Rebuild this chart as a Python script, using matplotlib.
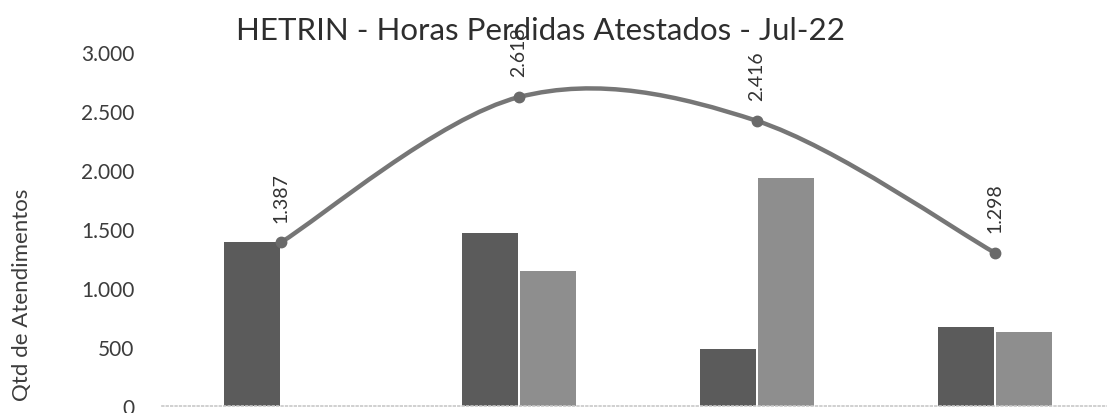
import matplotlib
matplotlib.use("Agg")
import matplotlib.pyplot as plt
from matplotlib.path import Path
from matplotlib.patches import PathPatch
from matplotlib.ticker import FuncFormatter
import numpy as np

# Dados
grupos = ["G1", "G2", "G3", "G4"]
barras_escuras = [1387, 1470, 480, 670]
barras_claras = [0, 1148, 1936, 628]
total_horas = [1387, 2618, 2416, 1298]
rotulos_total = ["1.387", "2.618", "2.416", "1.298"]

plt.rcParams["font.family"] = ["Lato", "DejaVu Sans"]

fig = plt.figure(figsize=(11.07, 4.14), dpi=100)
W, H = 1107, 414
# eixo: x de 162 a 1114 px, y de 53 (3000) a 407 (0)
ax = fig.add_axes([162 / W, (H - 407) / H, 952 / W, (407 - 53) / H])

x = np.arange(len(grupos))
larg = 0.235
ax.bar(x - larg / 2 - 0.006, barras_escuras, width=larg, color="#5b5b5b", zorder=2)
ax.bar(x + larg / 2 + 0.006, barras_claras, width=larg, color="#8e8e8e", zorder=2)

# linha suavizada (Bezier tipo Catmull-Rom, como no Excel)
pts = np.column_stack([x, total_horas]).astype(float)
verts = [pts[0]]
codes = [Path.MOVETO]
n = len(pts)
for i in range(n - 1):
    p0 = pts[i - 1] if i > 0 else pts[i]
    p1 = pts[i]
    p2 = pts[i + 1]
    p3 = pts[i + 2] if i + 2 < n else pts[i + 1]
    c1 = p1 + (p2 - p0) / 6
    c2 = p2 - (p3 - p1) / 6
    verts += [c1, c2, p2]
    codes += [Path.CURVE4] * 3
curva = PathPatch(Path(verts, codes), facecolor="none", edgecolor="#767676",
                  lw=3.2, zorder=3, capstyle="round")
ax.add_patch(curva)
ax.plot(x, total_horas, "o", color="#6a6a6a", ms=7.5, zorder=4)

for xi, yi, lab in zip(x, total_horas, rotulos_total):
    ax.annotate(lab, (xi, yi), xytext=(0, 15), textcoords="offset points",
                rotation=90, ha="center", va="bottom", fontsize=14,
                color="#333333", zorder=5)

ax.set_xlim(-0.5, 3.5)
ax.set_ylim(0, 3000)
ax.set_yticks(range(0, 3001, 500))
ax.yaxis.set_major_formatter(FuncFormatter(lambda v, p: f"{int(v):,}".replace(",", ".")))
ax.tick_params(axis="y", length=0, pad=20, labelsize=15, labelcolor="#3c3c3c")
ax.set_xticks([])
for s in ["top", "right", "left"]:
    ax.spines[s].set_visible(False)
ax.spines["bottom"].set_color("#c8c8c8")
ax.spines["bottom"].set_linestyle(":")
ax.spines["bottom"].set_linewidth(1.2)

fig.text(540 / W, 1 - 31 / H, "HETRIN - Horas Perdidas Atestados - Jul-22",
         ha="center", va="center", fontsize=22.5, color="#2e2e2e")
fig.text(22 / W, 1 - 295 / H, "Qtd de Atendimentos", rotation=90,
         ha="center", va="center", fontsize=16, color="#3c3c3c")

fig.savefig("out.png", dpi=100)
